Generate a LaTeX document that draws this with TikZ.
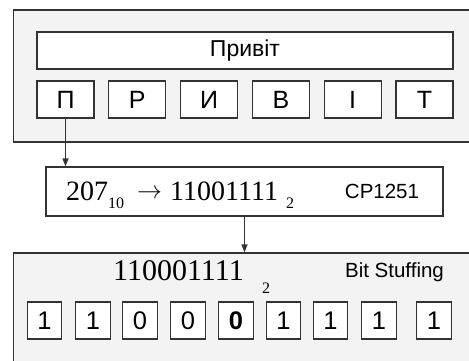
\documentclass[tikz,border=0pt]{standalone}
\usepackage{fontspec}
\setmainfont{Liberation Serif}
\setsansfont{Liberation Sans}
\usetikzlibrary{arrows.meta}
\definecolor{edge}{HTML}{333333}
\definecolor{panel}{HTML}{F3F3F3}
\tikzset{
  panelbox/.style={draw=edge, line width=1.3pt, fill=panel, inner sep=0pt},
  cellbox/.style={draw=edge, line width=1.3pt, fill=white, inner sep=0pt,
    font=\sffamily\fontsize{25}{25}\selectfont},
  bitbox/.style={cellbox, minimum width=34.5pt, minimum height=37pt,
    font=\sffamily\fontsize{25.5}{25.5}\selectfont},
  letterbox/.style={cellbox, minimum width=57pt, minimum height=37pt},
  tag/.style={font=\sffamily\fontsize{20.5}{20.5}\selectfont, inner sep=0pt},
  serifnum/.style={font=\fontsize{28}{28}\selectfont, inner sep=0pt, anchor=base west},
  serifsub/.style={font=\fontsize{16}{16}\selectfont, inner sep=0pt, anchor=base west},
  link/.style={draw=edge, line width=1.3pt, -{Triangle[length=8pt,width=6pt]}}
}
\begin{document}
\begin{tikzpicture}[x=1pt, y=-1pt]
\useasboundingbox (0,0) rectangle (469,360);
\clip (0,0) rectangle (469,360);

% upper panel: the word and its letters
\node[panelbox, minimum width=470pt, minimum height=132pt] (top) at (248.5,76) {};
\node[cellbox, minimum width=416pt, minimum height=37pt,
      font=\sffamily\fontsize{23}{23}\selectfont] (word) at (245,50.5) {Привіт};
\node[letterbox] (l1) at (65.5,99.5) {П};
\node[letterbox] (l2) at (137.3,99.5) {Р};
\node[letterbox] (l3) at (209.1,99.5) {И};
\node[letterbox] (l4) at (280.9,99.5) {В};
\node[letterbox] (l5) at (352.7,99.5) {І};
\node[letterbox] (l6) at (424.5,99.5) {Т};

% encoding step
\node[cellbox, minimum width=397pt, minimum height=49pt] (code) at (244.5,191.5) {};
\node[serifnum] (dec) at (66,200) {207};
\node[serifsub] (decsub) at (108,208) {10};
\node[inner sep=0pt, anchor=base west, font=\fontsize{27}{27}\selectfont] (to) at (137,198) {$\rightarrow$};
\node[serifnum] (bin) at (170,200) {11001111};
\node[serifsub] (binsub) at (286,208) {2};
\node[tag] (cp) at (382,191.5) {CP1251};

% lower panel: stuffed bit string
\node[panelbox, minimum width=470pt, minimum height=130pt] (bottom) at (248.5,318) {};
\node[serifnum, font=\fontsize{30}{30}\selectfont] (stuffed) at (113,280) {110001111};
\node[serifsub] (stuffedsub) at (262,293) {2};
\node[tag, anchor=base] (bs) at (394.5,277.3) {Bit Stuffing};
\node[bitbox] (b1) at (44.5,320.5) {1};
\node[bitbox] (b2) at (93,320.5) {1};
\node[bitbox] (b3) at (140,320.5) {0};
\node[bitbox] (b4) at (188,320.5) {0};
\node[bitbox] (b5) at (236,320.5) {\bfseries 0};
\node[bitbox] (b6) at (283.5,320.5) {1};
\node[bitbox] (b7) at (330.5,320.5) {1};
\node[bitbox] (b8) at (379,320.5) {1};
\node[bitbox] (b9) at (434,320.5) {1};

% connectors
\draw[link] (l1.south) -- (l1.south |- code.north);
\draw[link] (code.south) -- (code.south |- bottom.north);
\end{tikzpicture}
\end{document}
